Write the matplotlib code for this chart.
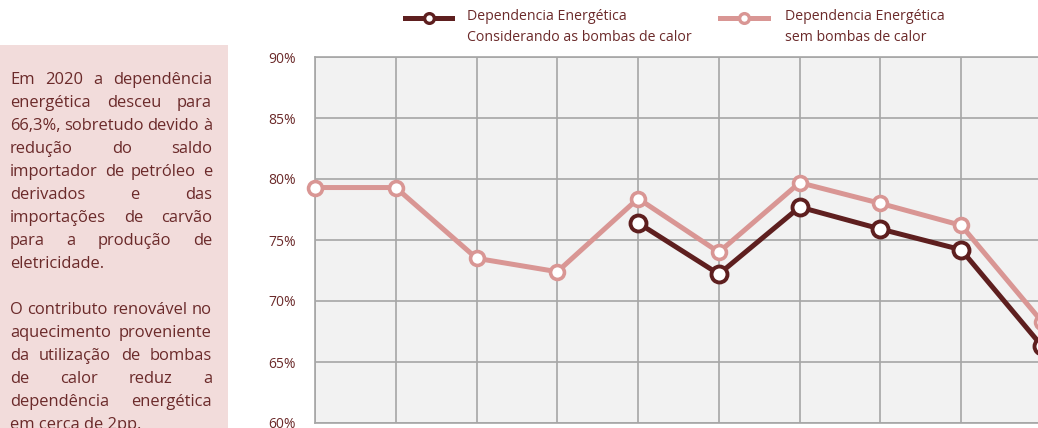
import numpy as np
import matplotlib.pyplot as plt
from matplotlib.patches import Rectangle
from matplotlib.lines import Line2D

years = ['2011', '2012', '2013', '2014', '2015', '2016', '2017', '2018', '2019', '2020']
semBombas = [79.3, 79.3, 73.5, 72.4, 78.4, 74.0, 79.7, 78.0, 76.2, 68.3]
comBombas = [np.nan, np.nan, np.nan, np.nan, 76.4, 72.2, 77.7, 75.9, 74.2, 66.3]
yTicks = [60, 65, 70, 75, 80, 85, 90]

paragraph1 = ['Em 2020 a dependência', 'energética desceu para', '66,3%, sobretudo devido à',
              'redução do saldo', 'importador de petróleo e', 'derivados e das',
              'importações de carvão', 'para a produção de', 'eletricidade.']
paragraph2 = ['O contributo renovável no', 'aquecimento proveniente', 'da utilização de bombas',
              'de calor reduz a', 'dependência energética', 'em cerca de 2pp.']
legendLabels = ['Dependencia Energética\nConsiderando as bombas de calor',
                'Dependencia Energética\nsem bombas de calor']

darkRed = '#5e1f1f'
lightRed = '#d99694'
textColor = '#6b2a2a'
fontName = ['Open Sans', 'DejaVu Sans']

W, H = 1038, 428
fig = plt.figure(figsize=(W / 100, H / 100), dpi=100)
fig.patch.set_facecolor('white')
renderer = fig.canvas.get_renderer()

# pink side panel
fig.patches.append(Rectangle((0, 0), 228 / W, 1 - 45 / H, transform=fig.transFigure,
                             facecolor='#f2dcdb', edgecolor='none', zorder=0))

# chart area
ax = fig.add_axes([315 / W, 1 - 423 / H, (1042 - 315) / W, (423 - 57) / H])
ax.set_facecolor('#f2f2f2')
x = np.arange(len(years))
ax.plot(x, semBombas, color=lightRed, lw=3.6, marker='o', ms=10, mfc='white',
        mec=lightRed, mew=2.6, zorder=3, clip_on=False)
ax.plot(x, comBombas, color=darkRed, lw=3.6, marker='o', ms=11.5, mfc='white',
        mec=darkRed, mew=2.8, zorder=4, clip_on=False)
ax.set_xlim(0, len(years) - 1)
ax.set_ylim(60, 90)
ax.set_yticks(yTicks)
ax.set_yticklabels([f'{v}%' for v in yTicks], color=textColor, fontsize=10, family=fontName)
ax.set_xticks(x)
ax.set_xticklabels([])
ax.tick_params(length=0, pad=14)
ax.grid(True, color='#a6a6a6', lw=1.2)
ax.set_axisbelow(True)
for s in ax.spines.values():
    s.set_color('#a6a6a6')
    s.set_linewidth(1.2)

# legend drawn by hand so the sample line sits on the first text line
for (x0, x1, tx), col, lab in zip([(405, 452, 467), (720, 768, 785)], [darkRed, lightRed], legendLabels):
    fig.add_artist(Line2D([x0 / W, x1 / W], [1 - 18 / H, 1 - 18 / H], transform=fig.transFigure,
                          color=col, lw=3.6))
    fig.add_artist(Line2D([(x0 + x1) / 2 / W], [1 - 18 / H], transform=fig.transFigure,
                          marker='o', ms=7, mfc='white', mec=col, mew=2.4))
    fig.text(tx / W, 1 - 9 / H, lab, color=textColor, fontsize=10.2, family=fontName,
             va='top', linespacing=1.55)


def fitSize(lines, width, base=10.0):
    # pick the size at which the longest line just fills the column
    widest = 0
    for line in lines:
        t = fig.text(0, 0, line, fontsize=base, family=fontName)
        widest = max(widest, t.get_window_extent(renderer).width)
        t.remove()
    return base * width / widest


def justifyLines(lines, yStart, lineGap, size, left=10, right=212):
    for i, line in enumerate(lines):
        y = 1 - (yStart + i * lineGap) / H
        words = line.split(' ')
        isLast = (i == len(lines) - 1)
        if isLast or len(words) == 1:
            fig.text(left / W, y, line, color=textColor, fontsize=size, family=fontName, va='center')
            continue
        objs = [fig.text(0, y, w, color=textColor, fontsize=size, family=fontName, va='center')
                for w in words]
        widths = [o.get_window_extent(renderer).width for o in objs]
        gap = (right - left - sum(widths)) / (len(words) - 1)
        pos = left
        for o, w in zip(objs, widths):
            o.set_x(pos / W)
            pos += w + gap


bodySize = fitSize(paragraph1 + paragraph2, 204)
justifyLines(paragraph1, 80, 23, bodySize)
justifyLines(paragraph2, 310, 23, bodySize)

fig.savefig('out.png', dpi=100)
